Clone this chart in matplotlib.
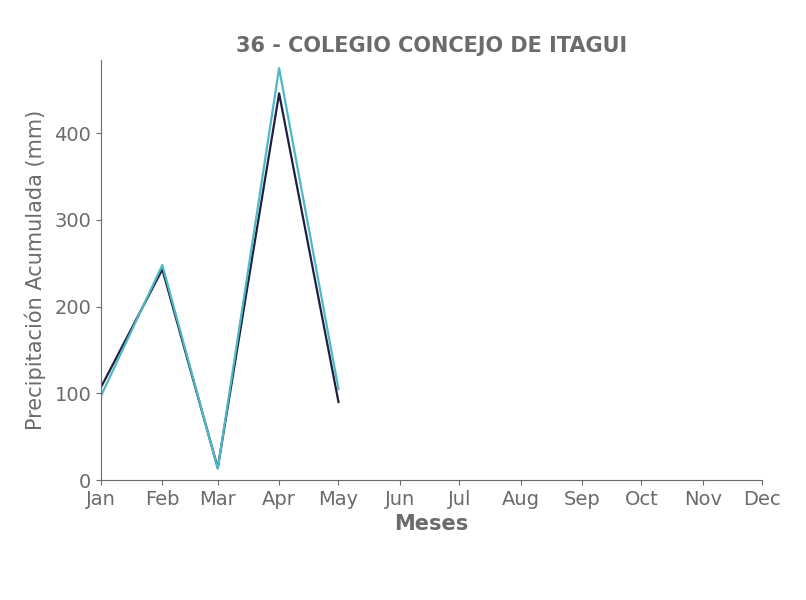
import datetime as dt

import matplotlib
matplotlib.use("Agg")
import matplotlib.dates as mdates
from matplotlib import pyplot as plt

# fechas de los meses con datos
meses = [dt.date(2023, m, 1) for m in range(1, 6)]
precip_a = [107, 243, 14, 446, 90]
precip_b = [97, 248, 13, 475, 105]

titulo = "36 - COLEGIO CONCEJO DE ITAGUI"
gris = "#6b6b6b"

fig = plt.figure(figsize=(8.06, 6), dpi=100)
ax = fig.add_axes([101 / 806, 120 / 600, 661 / 806, 420 / 600])

ax.plot(meses, precip_a, color="#1c1f3e", linewidth=1.6)
ax.plot(meses, precip_b, color="#4fb7c5", linewidth=1.6)

ax.set_xlim(dt.date(2023, 1, 1), dt.date(2023, 12, 1))
ax.set_ylim(0, max(precip_b) * 1.02)
ax.xaxis.set_major_locator(mdates.MonthLocator())
ax.xaxis.set_major_formatter(mdates.DateFormatter("%b"))

for s in ["top", "right"]:
    ax.spines[s].set_visible(False)
for s in ["left", "bottom"]:
    ax.spines[s].set_color(gris)

ax.tick_params(colors=gris, labelsize=14)
ax.set_title(titulo, color=gris, fontsize=15, fontweight="bold")
ax.set_xlabel("Meses", color=gris, fontsize=15, fontweight="bold")
ax.set_ylabel("Precipitación Acumulada (mm)", color=gris, fontsize=15, labelpad=6)

fig.savefig("out.png", dpi=100)
